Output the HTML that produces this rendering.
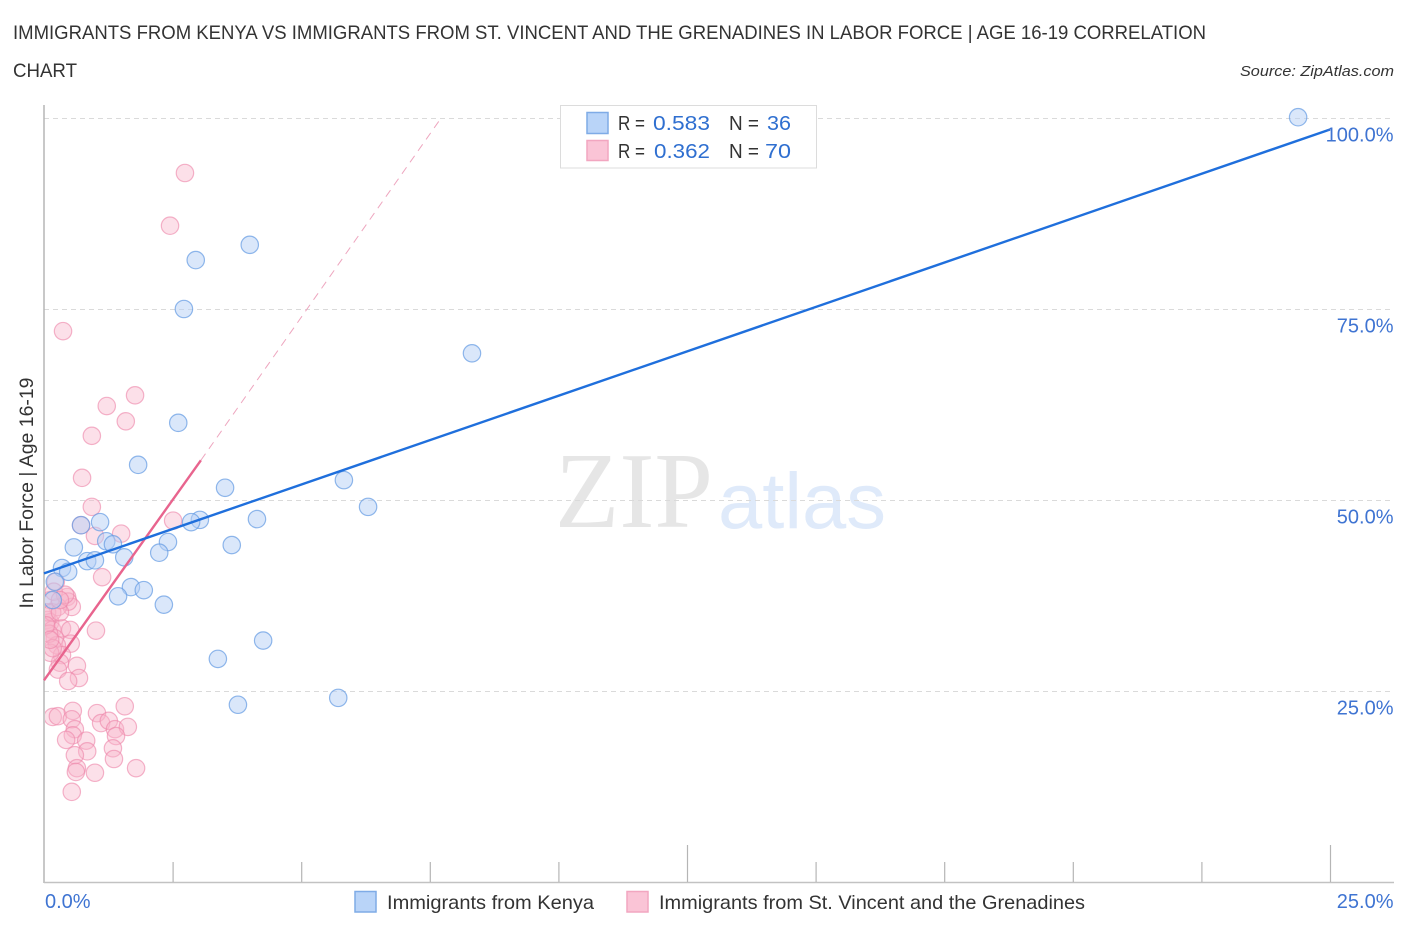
<!DOCTYPE html>
<html lang="en">
<head>
<meta charset="utf-8">
<title>Immigrants from Kenya vs Immigrants from St. Vincent and the Grenadines correlation chart</title>
<style>
html,body{margin:0;padding:0;background:#fff;width:1406px;height:930px;overflow:hidden}
svg{display:block}
text{font-family:"Liberation Sans",sans-serif}
</style>
</head>
<body>
<svg id="chart" width="1406" height="930" viewBox="0 0 1406 930" xmlns="http://www.w3.org/2000/svg">
  <defs>
    <clipPath id="plot-clip"><rect x="45" y="100" width="1350" height="782"/></clipPath>
  </defs>
  <text x="13" y="39" font-size="19" fill="#333" textLength="1193" lengthAdjust="spacingAndGlyphs">IMMIGRANTS FROM KENYA VS IMMIGRANTS FROM ST. VINCENT AND THE GRENADINES IN LABOR FORCE | AGE 16-19 CORRELATION</text>
  <text x="13" y="77" font-size="19" fill="#333" textLength="64" lengthAdjust="spacingAndGlyphs">CHART</text>
  <text x="1394" y="76" font-size="15" font-style="italic" fill="#333" text-anchor="end" textLength="154" lengthAdjust="spacingAndGlyphs">Source: ZipAtlas.com</text>

  <g id="watermark">
    <text x="555" y="527" font-size="108" fill="#e6e6e6" textLength="158" lengthAdjust="spacingAndGlyphs" style="font-family:'Liberation Serif',serif">ZIP</text>
    <text x="718" y="528" font-size="79" fill="#dfeafa" textLength="168" lengthAdjust="spacingAndGlyphs" style="font-family:'Liberation Sans',Arial,sans-serif">atlas</text>
  </g>

  <g id="grid"></g>
  <g id="axes"></g>
  <g id="points-pink" clip-path="url(#plot-clip)"></g>
  <g id="points-blue" clip-path="url(#plot-clip)"></g>
  <g id="trends"></g>
  <g id="tick-labels"></g>

  <g>
    <rect x="560.5" y="105.5" width="256" height="62.5" fill="#fff" stroke="#dcdcdc"/>
    <rect x="587" y="112.5" width="21" height="21" fill="#b9d4f8" stroke="#7fabe6" stroke-width="1.5"/>
    <rect x="587" y="140.5" width="21" height="20" fill="#fac4d6" stroke="#f2a6c0" stroke-width="1.5"/>
    <text x="618" y="130" font-size="20" fill="#333" textLength="27" lengthAdjust="spacingAndGlyphs">R =</text>
    <text x="653" y="130" font-size="20.5" fill="#2f6fd0" textLength="57" lengthAdjust="spacingAndGlyphs">0.583</text>
    <text x="729" y="130" font-size="20" fill="#333" textLength="30" lengthAdjust="spacingAndGlyphs">N =</text>
    <text x="767" y="130" font-size="20.5" fill="#2f6fd0" textLength="24" lengthAdjust="spacingAndGlyphs">36</text>
    <text x="618" y="158" font-size="20" fill="#333" textLength="27" lengthAdjust="spacingAndGlyphs">R =</text>
    <text x="654" y="158" font-size="20.5" fill="#2f6fd0" textLength="56" lengthAdjust="spacingAndGlyphs">0.362</text>
    <text x="729" y="158" font-size="20" fill="#333" textLength="30" lengthAdjust="spacingAndGlyphs">N =</text>
    <text x="765" y="158" font-size="20.5" fill="#2f6fd0" textLength="26" lengthAdjust="spacingAndGlyphs">70</text>
  </g>

  <g>
    <rect x="355" y="891.5" width="21" height="20.5" fill="#b9d4f8" stroke="#7fabe6" stroke-width="1.5"/>
    <text x="387" y="909" font-size="19.5" fill="#333" textLength="207" lengthAdjust="spacingAndGlyphs">Immigrants from Kenya</text>
    <rect x="627" y="891.5" width="21" height="20.5" fill="#fac4d6" stroke="#f2a6c0" stroke-width="1.5"/>
    <text x="659" y="909" font-size="19.5" fill="#333" textLength="426" lengthAdjust="spacingAndGlyphs">Immigrants from St. Vincent and the Grenadines</text>
  </g>

  <text transform="translate(33,493) rotate(-90)" font-size="19.5" fill="#333" text-anchor="middle" textLength="231" lengthAdjust="spacingAndGlyphs">In Labor Force | Age 16-19</text>
</svg>

<script>
const yTicks = [25, 50, 75, 100];
const yTickLabels = ['25.0%', '50.0%', '75.0%', '100.0%'];
const xTicks = [0, 2.5, 5, 7.5, 10, 12.5, 15, 17.5, 20, 22.5, 25];
const xMajorTicks = [12.5, 25];
const xEndLabels = ['0.0%', '25.0%'];

const kenyaX = [24.38,4.00,2.95,2.72,8.32,2.61,1.83,3.52,5.83,6.30,4.14,3.03,2.86,1.09,0.72,1.21,1.34,0.58,2.41,3.65,2.24,1.56,0.84,0.99,0.35,0.47,0.21,1.69,1.94,1.44,2.33,0.17,4.26,3.38,3.77,5.72];
const kenyaY = [100.1,83.4,81.4,75.0,69.2,60.1,54.6,51.6,52.6,49.1,47.5,47.4,47.1,47.1,46.7,44.6,44.2,43.8,44.5,44.1,43.1,42.5,42.0,42.1,41.1,40.6,39.3,38.6,38.2,37.4,36.3,36.9,31.6,29.2,23.2,24.1];

const vincentX = [2.74,2.45,0.37,1.77,1.22,1.59,0.93,0.74,0.93,0.72,0.99,1.50,2.51,1.13,1.01,0.23,0.45,0.54,0.47,0.27,0.12,0.06,0.12,0.16,0.35,0.51,0.21,0.52,0.25,0.35,0.31,0.27,0.64,0.68,0.47,0.12,0.17,0.27,0.56,0.54,0.60,0.56,0.43,0.82,0.84,0.60,0.64,0.62,0.99,0.54,1.03,1.11,1.26,1.57,1.38,1.63,1.40,1.34,1.36,1.79,0.19,0.06,0.10,0.16,0.31,0.41,0.17,0.04,0.31,0.12];
const vincentY = [92.8,85.9,72.1,63.7,62.3,60.3,58.4,52.9,49.1,46.7,45.3,45.6,47.3,39.9,32.9,39.3,37.3,36.0,36.7,36.0,36.9,34.3,34.0,33.0,33.2,33.0,31.9,31.2,31.0,29.7,28.7,27.8,28.3,26.7,26.3,30.0,21.6,21.7,22.4,21.3,20.0,19.2,18.6,18.5,17.1,16.6,14.9,14.4,14.3,11.8,22.1,20.8,21.1,23.0,20.0,20.3,19.1,17.5,16.1,14.9,38.0,35.3,32.5,35.3,35.3,37.6,30.6,33.6,36.9,31.7];

const kenyaTrendX = [0, 25];
const kenyaTrendY = [40.4, 98.5];
const vincentSolidX = [0, 3.05];
const vincentSolidY = [26.4, 55.2];
const vincentDashX = [3.05, 7.72];
const vincentDashY = [55.2, 100];

const X0 = 44, X1 = 1330, Y0 = 882, Y100 = 118;
function xScale(v) { return X0 + (v / 25) * (X1 - X0); }
function yScale(v) { return Y0 - (v / 100) * (Y0 - Y100); }

const NS = 'http://www.w3.org/2000/svg';
function mk(tag, parent, attrs, text) {
  const el = document.createElementNS(NS, tag);
  for (const k in attrs) el.setAttribute(k, attrs[k]);
  if (text !== undefined) el.textContent = text;
  parent.appendChild(el);
  return el;
}

const grid = document.getElementById('grid');


yTicks.forEach(function (t) {
  const g = mk('line', grid, {x1: X0, x2: 1393, y1: Math.floor(yScale(t)) + 0.5, y2: Math.floor(yScale(t)) + 0.5, stroke: '#dadada', 'stroke-width': 1, 'stroke-dasharray': '5 4'});
  
  
});

const axes = document.getElementById('axes');


const yAxisLine = mk('line', axes, {x1: X0, x2: X0, y1: 105, y2: Y0 + 1, stroke: '#b5b5b5', 'stroke-width': 1.5});


const xAxisLine = mk('line', axes, {x1: X0, x2: X1 + 64, y1: Y0 + 0.5, y2: Y0 + 0.5, stroke: '#c2c2c2', 'stroke-width': 1.5});


xTicks.forEach(function (t) {
  if (t === 0) return;
  const top = xMajorTicks.indexOf(t) >= 0 ? 845 : 862;
  const tick = mk('line', axes, {x1: xScale(t) + 0.5, x2: xScale(t) + 0.5, y1: top, y2: Y0, stroke: '#b5b5b5', 'stroke-width': 1.2});
  
  
});

const pinkGroup = document.getElementById('points-pink');


vincentX.forEach(function (v, i) {
  const c = mk('circle', pinkGroup, {cx: xScale(v), cy: yScale(vincentY[i]), r: 8.7, fill: '#f8b4cb', 'fill-opacity': 0.42, stroke: '#ee86aa', 'stroke-opacity': 0.62, 'stroke-width': 1.2});
  
  
});

const blueGroup = document.getElementById('points-blue');


kenyaX.forEach(function (v, i) {
  const c = mk('circle', blueGroup, {cx: xScale(v), cy: yScale(kenyaY[i]), r: 8.7, fill: '#b5d0f5', 'fill-opacity': 0.5, stroke: '#669ce3', 'stroke-opacity': 0.72, 'stroke-width': 1.2});
  
  
});

const trends = document.getElementById('trends');


const dash = mk('line', trends, {x1: xScale(vincentDashX[0]), y1: yScale(vincentDashY[0]), x2: xScale(vincentDashX[1]), y2: yScale(vincentDashY[1]), stroke: '#eea6bf', 'stroke-width': 1, 'stroke-dasharray': '8 6'});


const vincentLine = mk('line', trends, {x1: xScale(vincentSolidX[0]), y1: yScale(vincentSolidY[0]), x2: xScale(vincentSolidX[1]), y2: yScale(vincentSolidY[1]), stroke: '#e8648e', 'stroke-width': 2.4});


const kenyaLine = mk('line', trends, {x1: xScale(kenyaTrendX[0]), y1: yScale(kenyaTrendY[0]), x2: xScale(kenyaTrendX[1]), y2: yScale(kenyaTrendY[1]), stroke: '#1f6fdc', 'stroke-width': 2.4});



const labels = document.getElementById('tick-labels');


yTicks.forEach(function (t, i) {
  const l = mk('text', labels, {x: 1393.5, y: yScale(t) + 23.5, 'font-size': 20, fill: '#3f74d2', 'text-anchor': 'end'}, yTickLabels[i]);
  
  
});
const xStart = mk('text', labels, {x: 45, y: 908, 'font-size': 20, fill: '#3f74d2'}, xEndLabels[0]);


const xEnd = mk('text', labels, {x: 1393.5, y: 908, 'font-size': 20, fill: '#3f74d2', 'text-anchor': 'end'}, xEndLabels[1]);


</script>
</body>
</html>
